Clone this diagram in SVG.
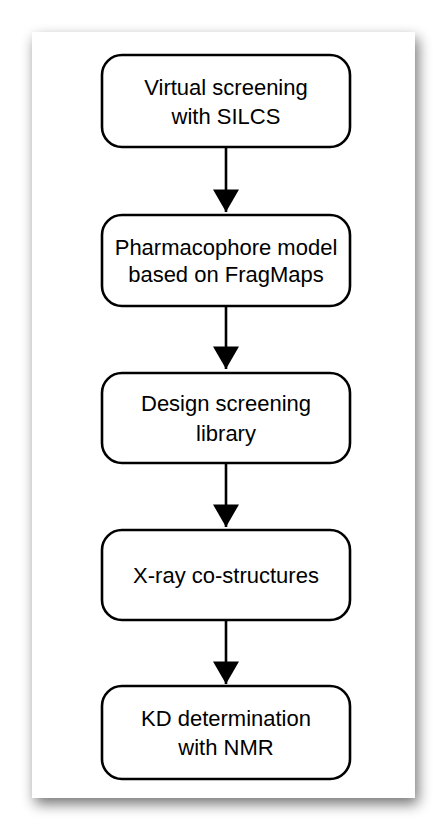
<svg xmlns="http://www.w3.org/2000/svg" width="447" height="830" viewBox="0 0 447 830">
<defs>
<filter id="sh" x="-20%" y="-20%" width="140%" height="140%">
<feGaussianBlur in="SourceAlpha" stdDeviation="7"/>
<feOffset dx="3" dy="6" result="b"/>
<feComponentTransfer><feFuncA type="linear" slope="0.55"/></feComponentTransfer>
<feMerge><feMergeNode/><feMergeNode in="SourceGraphic"/></feMerge>
</filter>
<marker id="ah" markerUnits="userSpaceOnUse" markerWidth="30" markerHeight="26" refX="26" refY="15" orient="auto" viewBox="0 0 26 30">
<path d="M0,0 L26,15 L0,30 Z" fill="#000"/>
</marker>
</defs>
<style>
.box{fill:#fff;stroke:#000;stroke-width:2.6}
.t{font-family:"Liberation Sans",Arial,sans-serif;font-size:22px;fill:#000;text-anchor:middle}
.c{stroke:#000;stroke-width:2.6;fill:none}
</style>
<rect x="0" y="0" width="447" height="830" fill="#fff"/>
<rect x="32" y="32" width="383" height="766" fill="#fff" filter="url(#sh)"/>
<g id="connectors">
<line class="c" x1="226" y1="147" x2="226" y2="212" marker-end="url(#ah)"/>
<line class="c" x1="226" y1="306" x2="226" y2="369" marker-end="url(#ah)"/>
<line class="c" x1="226" y1="463" x2="226" y2="527" marker-end="url(#ah)"/>
<line class="c" x1="226" y1="620" x2="226" y2="684" marker-end="url(#ah)"/>
</g>
<g id="n1">
<rect class="box" x="102" y="55" width="248" height="92" rx="20"/>
<text class="t" x="226" y="95">Virtual screening</text>
<text class="t" x="226" y="124">with SILCS</text>
</g>
<g id="n2">
<rect class="box" x="102" y="215" width="248" height="91" rx="20"/>
<text class="t" x="226" y="255">Pharmacophore model</text>
<text class="t" x="226" y="282">based on FragMaps</text>
</g>
<g id="n3">
<rect class="box" x="102" y="373" width="248" height="90" rx="20"/>
<text class="t" x="226" y="411">Design screening</text>
<text class="t" x="226" y="441">library</text>
</g>
<g id="n4">
<rect class="box" x="102" y="530" width="248" height="90" rx="20"/>
<text class="t" x="226" y="583">X-ray co-structures</text>
</g>
<g id="n5">
<rect class="box" x="102" y="686" width="248" height="93" rx="20"/>
<text class="t" x="226" y="726">KD determination</text>
<text class="t" x="226" y="755">with NMR</text>
</g>
</svg>
